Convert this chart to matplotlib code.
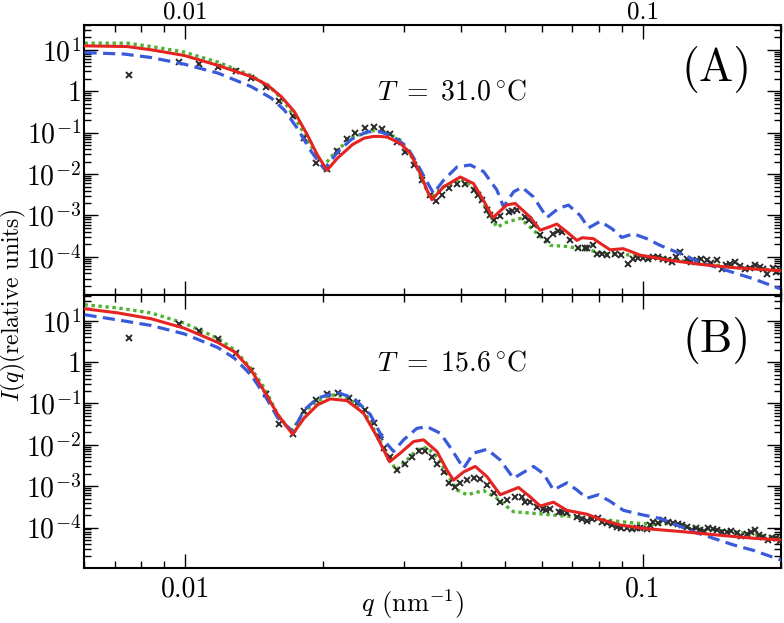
import numpy as np
import matplotlib
matplotlib.use('Agg')
import matplotlib.pyplot as plt
from matplotlib.ticker import FixedLocator, LogLocator, FuncFormatter, NullFormatter

plt.rcParams['font.family'] = 'serif'
plt.rcParams['font.serif'] = ['cmr10']
plt.rcParams['mathtext.fontset'] = 'cm'
plt.rcParams['axes.formatter.use_mathtext'] = True

# ---- panel A, T = 31.0 C ----
qA_data = [0.00752, 0.00967, 0.01073, 0.01176, 0.0129, 0.01391, 0.0150, 0.01604, 0.01715, 0.01819,
           0.0193, 0.02039, 0.02147, 0.02254, 0.02351, 0.02472, 0.02577, 0.02688, 0.02793, 0.02899,
           0.03022, 0.03151, 0.03288, 0.03427, 0.03532, 0.03635, 0.03758, 0.0392, 0.04087, 0.04261,
           0.0436, 0.04445, 0.04559, 0.0464, 0.04712, 0.04873, 0.05081, 0.0517, 0.053, 0.05527,
           0.0563, 0.05762, 0.05959, 0.06163, 0.06371, 0.0652, 0.06646, 0.06929, 0.07224, 0.0745,
           0.07536, 0.0779, 0.07924, 0.0815, 0.08332, 0.08688, 0.0895, 0.09289, 0.09524, 0.0975,
           0.1002, 0.1027, 0.1053, 0.108, 0.1107, 0.1135, 0.1155, 0.118, 0.1204, 0.1246,
           0.1275, 0.131, 0.134, 0.1378, 0.141, 0.1449, 0.1485, 0.1515, 0.1549, 0.1585,
           0.1628, 0.167, 0.1713, 0.1755, 0.1801, 0.183, 0.1863, 0.1925, 0.1955, 0.1991]
IA_data = [2.48, 5.2, 4.5, 3.8, 3.1, 2.14, 1.25, 0.58, 0.257, 0.076,
           0.018, 0.0129, 0.0355, 0.069, 0.1, 0.126, 0.135, 0.12, 0.093, 0.060,
           0.0347, 0.0166, 0.0071, 0.0031, 0.00224, 0.0031, 0.0045, 0.0059, 0.0058, 0.0041,
           0.0032, 0.0024, 0.00135, 0.00105, 0.00076, 0.00095, 0.0012, 0.0013, 0.00135, 0.00091,
           0.00076, 0.00058, 0.00033, 0.00025, 0.00036, 0.00042, 0.0004, 0.00025, 0.000166, 0.00016,
           0.000166, 0.00019, 0.00012, 0.00012, 0.00011, 0.00012, 0.00011, 6.8e-5, 9.1e-5, 9.5e-5,
           9.5e-5, 8.7e-5, 1.0e-4, 1.0e-4, 9.1e-5, 8.3e-5, 7.4e-5, 1.0e-4, 1.3e-4, 9.1e-5,
           7.6e-5, 8.3e-5, 9.1e-5, 8.3e-5, 7.1e-5, 8.3e-5, 5.1e-5, 6.3e-5, 6.8e-5, 7.6e-5,
           5.9e-5, 5.0e-5, 5.5e-5, 6.3e-5, 5.6e-5, 5.0e-5, 3.9e-5, 5.5e-5, 4.2e-5, 4.7e-5]

qA_red = [0.00602, 0.00747, 0.00843, 0.00995, 0.0117, 0.01393, 0.0151, 0.0162, 0.0173, 0.01846,
          0.01942, 0.02039, 0.02147, 0.0232, 0.0246, 0.02573, 0.02666, 0.02761, 0.02948, 0.03099,
          0.0326, 0.03371, 0.03457, 0.03664, 0.03986, 0.04261, 0.04481, 0.04698, 0.0504, 0.05255,
          0.05667, 0.05959, 0.06214, 0.06481, 0.06815, 0.07167, 0.07362, 0.0779, 0.08126, 0.08472,
          0.09044, 0.09448, 0.09849, 0.1126, 0.1332, 0.1573, 0.2012]
IA_red = [12.5, 12.0, 10.0, 7.3, 4.3, 2.26, 1.42, 0.74, 0.32, 0.089,
          0.029, 0.0124, 0.024, 0.052, 0.074, 0.081, 0.081, 0.078, 0.055, 0.032,
          0.0102, 0.0041, 0.0024, 0.0049, 0.0085, 0.0059, 0.0023, 0.00089, 0.0018, 0.00195,
          0.00091, 0.00044, 0.00052, 0.00062, 0.0004, 0.00025, 0.00029, 0.000275, 0.0002, 0.000148,
          0.000158, 0.000132, 0.00011, 8.5e-5, 6.6e-5, 5.5e-5, 4.6e-5]

qA_blue = [0.00602, 0.00736, 0.00843, 0.00995, 0.0118, 0.01393, 0.01541, 0.01645, 0.01756, 0.01884,
           0.02011, 0.02147, 0.02304, 0.02493, 0.02666, 0.0285, 0.03048, 0.03205, 0.03371, 0.03485,
           0.03664, 0.0392, 0.04191, 0.04481, 0.04793, 0.04955, 0.0521, 0.05436, 0.05762, 0.06163,
           0.06534, 0.0687, 0.07286, 0.07597, 0.08057, 0.08545, 0.08985, 0.09524, 0.1019, 0.1089,
           0.1204, 0.1332, 0.1523, 0.1742, 0.1991]
IA_blue = [8.6, 7.9, 6.5, 4.5, 2.73, 1.29, 0.68, 0.352, 0.127, 0.0347,
           0.0132, 0.033, 0.069, 0.105, 0.105, 0.079, 0.046, 0.018, 0.0065, 0.0034,
           0.0071, 0.0148, 0.0166, 0.0115, 0.0041, 0.00162, 0.0037, 0.0048, 0.0028, 0.00089,
           0.00148, 0.00178, 0.001, 0.0005, 0.00072, 0.00048, 0.000295, 0.00036, 0.000275, 0.00019,
           0.00012, 7.4e-5, 4.7e-5, 2.95e-5, 1.7e-5]

qA_green = [0.00602, 0.00747, 0.00843, 0.00995, 0.0118, 0.01393, 0.01541, 0.01645, 0.01756, 0.01884,
            0.02004, 0.02144, 0.02327, 0.02573, 0.02756, 0.02948, 0.03151, 0.03314, 0.03427, 0.03664,
            0.03986, 0.04261, 0.04559, 0.04793, 0.0504, 0.05389, 0.05762, 0.06266, 0.06815, 0.07536,
            0.08332, 0.09524, 0.1126, 0.1332, 0.1573, 0.2012]
IA_green = [14.5, 14.5, 12.0, 8.8, 5.0, 2.4, 1.18, 0.56, 0.184, 0.046,
            0.0158, 0.038, 0.079, 0.112, 0.10, 0.066, 0.022, 0.0059, 0.0027, 0.0049,
            0.0078, 0.0049, 0.00135, 0.00052, 0.00069, 0.00085, 0.00044, 0.00019, 0.000178, 0.000148,
            0.00012, 0.00011, 9.1e-5, 7.1e-5, 5.6e-5, 4.7e-5]

# ---- panel B, T = 15.6 C ----
qB_data = [0.00752, 0.00967, 0.01073, 0.01176, 0.0129, 0.01391, 0.0150, 0.01604, 0.01715, 0.01819,
           0.0193, 0.02039, 0.0215, 0.02273, 0.02371, 0.02472, 0.02577, 0.02666, 0.0271, 0.02793,
           0.02899, 0.03022, 0.03126, 0.03231, 0.03342, 0.03457, 0.03545, 0.03664, 0.03758, 0.03886,
           0.03986, 0.04122, 0.04261, 0.04407, 0.04559, 0.04712, 0.04873, 0.0504, 0.05255, 0.05436,
           0.05527, 0.05667, 0.05861, 0.06058, 0.0615, 0.06266, 0.06534, 0.0665, 0.06815, 0.07167,
           0.0735, 0.07536, 0.0775, 0.07988, 0.0815, 0.08332, 0.0855, 0.08763, 0.0895, 0.09214,
           0.0945, 0.09689, 0.0985, 0.1019, 0.1036, 0.1053, 0.108, 0.1107, 0.1135, 0.1165,
           0.119, 0.1215, 0.125, 0.1278, 0.1305, 0.1332, 0.136, 0.1389, 0.142, 0.1449,
           0.1485, 0.1523, 0.156, 0.1602, 0.164, 0.1684, 0.172, 0.1756, 0.179, 0.1831,
           0.187, 0.191, 0.195, 0.1991]
IB_data = [3.9, 8.3, 5.8, 3.6, 1.7, 0.62, 0.174, 0.032, 0.018, 0.066,
           0.12, 0.168, 0.178, 0.135, 0.102, 0.071, 0.033, 0.0158, 0.0083, 0.005,
           0.0024, 0.0035, 0.0051, 0.0069, 0.0069, 0.0051, 0.0035, 0.0022, 0.0012, 0.00093,
           0.00117, 0.0014, 0.00155, 0.00148, 0.00107, 0.00068, 0.00042, 0.00047, 0.00056, 0.00056,
           0.00042, 0.00042, 0.00032, 0.000275, 0.00026, 0.000275, 0.00024, 0.00024, 0.00022, 0.000178,
           0.00016, 0.000145, 0.00016, 0.000166, 0.000138, 0.000126, 0.000112, 0.000105, 1.0e-4, 9.5e-5,
           9.1e-5, 9.5e-5, 1.0e-4, 9.1e-5, 0.000112, 0.000138, 0.000126, 0.000151, 0.000138, 0.000132,
           0.00012, 0.000115, 0.000105, 8.7e-5, 9.5e-5, 8.7e-5, 8.3e-5, 9.5e-5, 9.1e-5, 8.7e-5,
           7.6e-5, 7.9e-5, 8.3e-5, 7.2e-5, 6.3e-5, 6.9e-5, 7.6e-5, 8.7e-5, 6.6e-5, 6.0e-5,
           5.0e-5, 5.5e-5, 5.6e-5, 4.6e-5]

qB_red = [0.00602, 0.00711, 0.00841, 0.00995, 0.01176, 0.01279, 0.01391, 0.01488, 0.01591, 0.01715,
          0.01819, 0.01945, 0.02073, 0.02254, 0.02451, 0.02621, 0.02793, 0.02948, 0.03151, 0.03314,
          0.03545, 0.03727, 0.03853, 0.04052, 0.04298, 0.04559, 0.04873, 0.05343, 0.05667, 0.05959,
          0.06371, 0.06815, 0.07536, 0.08057, 0.08909, 0.1002, 0.1225, 0.1449, 0.1742, 0.2012]
IB_red = [19.5, 15.5, 11.2, 6.6, 3.0, 1.78, 0.65, 0.195, 0.054, 0.018,
          0.045, 0.093, 0.129, 0.117, 0.058, 0.0158, 0.0039, 0.0063, 0.012, 0.0132,
          0.0069, 0.00245, 0.0014, 0.0022, 0.003, 0.0017, 0.00062, 0.00093, 0.00055, 0.00033,
          0.00041, 0.00026, 0.00021, 0.000158, 0.000115, 9.5e-5, 7.9e-5, 6.6e-5, 5.5e-5, 5.0e-5]

qB_blue = [0.00602, 0.00711, 0.00841, 0.00995, 0.01176, 0.01279, 0.01391, 0.01488, 0.01591, 0.01687,
           0.01715, 0.01819, 0.01945, 0.02144, 0.02331, 0.02535, 0.0271, 0.0285, 0.02997, 0.03205,
           0.03371, 0.03605, 0.03822, 0.04052, 0.04261, 0.04559, 0.04873, 0.0521, 0.05762, 0.06058,
           0.06371, 0.06815, 0.07167, 0.07536, 0.07988, 0.08472, 0.09058, 0.1002, 0.1089, 0.1185,
           0.1288, 0.1424, 0.1575, 0.1742, 0.2012]
IB_blue = [14.0, 10.5, 7.7, 4.8, 2.26, 1.25, 0.49, 0.162, 0.045, 0.025,
           0.021, 0.07, 0.135, 0.186, 0.135, 0.054, 0.0132, 0.0069, 0.0132, 0.025,
           0.0275, 0.019, 0.0076, 0.0027, 0.0063, 0.0078, 0.0043, 0.00155, 0.003, 0.002,
           0.00081, 0.0012, 0.00081, 0.00051, 0.00062, 0.00043, 0.00026, 0.0002, 0.000166, 0.000115,
           7.9e-5, 5.5e-5, 3.8e-5, 2.8e-5, 1.6e-5]

qB_green = [0.00602, 0.00711, 0.00841, 0.00995, 0.01176, 0.01279, 0.01391, 0.01488, 0.01591, 0.01702,
            0.01819, 0.01945, 0.0208, 0.02224, 0.02293, 0.02493, 0.02666, 0.02765, 0.02889, 0.03048,
            0.03205, 0.03371, 0.03545, 0.03727, 0.0392, 0.04122, 0.04481, 0.04793, 0.0504, 0.0521,
            0.05762, 0.06371, 0.07045, 0.0779, 0.08614, 0.09524, 0.1053, 0.1146, 0.1332, 0.1628, 0.2012]
IB_green = [24.4, 20.4, 15.5, 8.7, 3.8, 1.99, 0.71, 0.234, 0.054, 0.021,
            0.063, 0.115, 0.162, 0.148, 0.12, 0.048, 0.012, 0.0051, 0.00245, 0.0043,
            0.0076, 0.0087, 0.0051, 0.002, 0.00081, 0.00062, 0.00078, 0.00051, 0.00032, 0.00024,
            0.00022, 0.0002, 0.000182, 0.000166, 0.000145, 0.000129, 0.00012, 0.000126, 9.5e-5, 7.6e-5, 5.6e-5]

temps = [r'$T\ =\ 31.0\,^{\circ}\mathrm{C}$', r'$T\ =\ 15.6\,^{\circ}\mathrm{C}$']
panel_tags = ['(A)', '(B)']
ylims = [(1.2e-5, 40), (1.05e-5, 42)]

RED, BLUE, GREEN, MARK = '#e52421', '#3a5bd9', '#4cb230', '#2a2a2a'

fig = plt.figure(figsize=(7.84, 6.23), dpi=100)
axA = fig.add_axes([0.107, 0.5265, 0.889, 0.4335])
axB = fig.add_axes([0.107, 0.0883, 0.889, 0.4382])

panels = [(axA, qA_data, IA_data, qA_red, IA_red, qA_blue, IA_blue, qA_green, IA_green),
          (axB, qB_data, IB_data, qB_red, IB_red, qB_blue, IB_blue, qB_green, IB_green)]


def ylab(v, pos):
    e = int(round(np.log10(v)))
    return r'$1\;$' if e == 0 else '$10^{%d}$' % e


for i, (ax, qd, Id, qr, Ir, qb, Ib, qg, Ig) in enumerate(panels):
    ax.plot(qg, Ig, color=GREEN, lw=2.4, linestyle=(0, (1, 1.1)), zorder=2)
    ax.plot(qd, Id, 'x', color=MARK, ms=4.8, mew=1.4, zorder=3)
    ax.plot(qb, Ib, color=BLUE, lw=2.3, dashes=(3.8, 2.0), zorder=4)
    ax.plot(qr, Ir, color=RED, lw=2.2, zorder=5)

    ax.set_xscale('log')
    ax.set_yscale('log')
    ax.set_xlim(0.006, 0.2)
    ax.set_ylim(*ylims[i])

    ax.xaxis.set_major_locator(FixedLocator([0.01, 0.1]))
    ax.xaxis.set_major_formatter(FuncFormatter(lambda v, p: '%g' % v))
    ax.xaxis.set_minor_locator(LogLocator(base=10, subs=np.arange(2, 10), numticks=20))
    ax.xaxis.set_minor_formatter(NullFormatter())
    ax.yaxis.set_major_locator(FixedLocator([1e-4, 1e-3, 1e-2, 1e-1, 1, 10]))
    ax.yaxis.set_major_formatter(FuncFormatter(ylab))
    ax.yaxis.set_minor_locator(LogLocator(base=10, subs=np.arange(2, 10), numticks=20))
    ax.yaxis.set_minor_formatter(NullFormatter())

    ax.tick_params(which='both', direction='in', top=True, right=True, labelsize=20)
    ax.tick_params(which='major', length=10, width=1.0)
    ax.tick_params(which='minor', length=5, width=1.0)
    ax.tick_params(axis='y', pad=2)
    for s in ax.spines.values():
        s.set_linewidth(1.5)

    ax.text(0.421, 0.75, temps[i], transform=ax.transAxes, fontsize=20, ha='left', va='center')
    ax.text(0.908, 0.835, panel_tags[i], transform=ax.transAxes, fontsize=33, ha='center', va='center')

axA.tick_params(axis='x', labeltop=True, labelbottom=False, pad=1, labelsize=18)
axB.tick_params(axis='x', labeltop=False, labelbottom=True, pad=6)

fig.text(0.017, 0.51, r'$I(q)$(relative units)', rotation=90, fontsize=17, ha='center', va='center')
fig.text(0.527, 0.03, r'$q$ (nm$^{-1}$)', fontsize=19, ha='center', va='center')

fig.savefig('out.png', dpi=100)
